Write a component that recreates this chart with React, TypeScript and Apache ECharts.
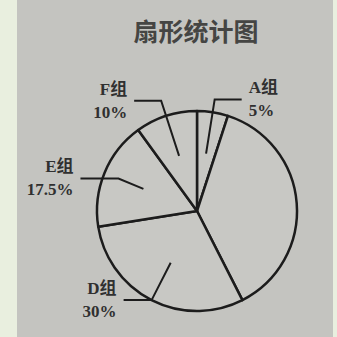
import React, { useEffect, useRef } from "react";
import * as echarts from "echarts";

const titleText = "扇形统计图";
const groupNames = ["A组", "", "D组", "E组", "F组"];
const percents = [5, 37.5, 30, 17.5, 10];
const lineLen = [55, 0, 42, 27, 58];
const lineLen2 = [27, 0, 28, 38, 27];

export default function App() {
  const ref = useRef<HTMLDivElement>(null);
  useEffect(() => {
    if (!ref.current) return;
    const chart = echarts.init(ref.current, null, { renderer: "svg" });
    const pieData = groupNames.map((n, i) => ({ name: n || "other", value: percents[i] }));
    const labelData = groupNames.map((n, i) => ({
      name: n || "other",
      value: percents[i],
      label: { show: !!n },
      labelLine: { show: !!n, length: lineLen[i], length2: lineLen2[i] },
    }));
    chart.setOption({
      animation: false,
      backgroundColor: "#e9efdf",
      graphic: [
        {
          type: "rect",
          z: -10,
          shape: { x: 17, y: 0, width: 316, height: 337 },
          style: { fill: "#c4c4c0" },
        },
      ],
      title: {
        text: titleText,
        left: 191,
        top: 12,
        textAlign: "center",
        textStyle: {
          fontFamily: "Noto Sans CJK SC",
          fontSize: 25,
          fontWeight: "bold",
          color: "#454543",
        },
      },
      series: [
        {
          type: "pie",
          center: [197, 211],
          radius: 100,
          startAngle: 90,
          clockwise: true,
          silent: true,
          label: { show: false },
          labelLine: { show: false },
          itemStyle: { color: "#c8c8c4", borderColor: "#1c1c1c", borderWidth: 2.5 },
          data: pieData,
        },
        {
          type: "pie",
          center: [197, 211],
          radius: 58,
          startAngle: 90,
          clockwise: true,
          silent: true,
          avoidLabelOverlap: false,
          itemStyle: { color: "transparent", borderWidth: 0 },
          label: {
            position: "outside",
            formatter: (p: any) => p.name + "\n" + p.value + "%",
            fontFamily: "Liberation Serif, Noto Sans CJK SC",
            fontSize: 17,
            fontWeight: "bold",
            lineHeight: 23,
            color: "#303030",
            distanceToLabelLine: 7,
          },
          labelLine: {
            lineStyle: { color: "#1c1c1c", width: 2 },
          },
          data: labelData,
          z: 3,
        },
      ],
    });
    return () => chart.dispose();
  }, []);
  return (
    <div
      ref={ref}
      style={{ position: "fixed", left: 0, top: 0, width: 337, height: 337 }}
    />
  );
}
